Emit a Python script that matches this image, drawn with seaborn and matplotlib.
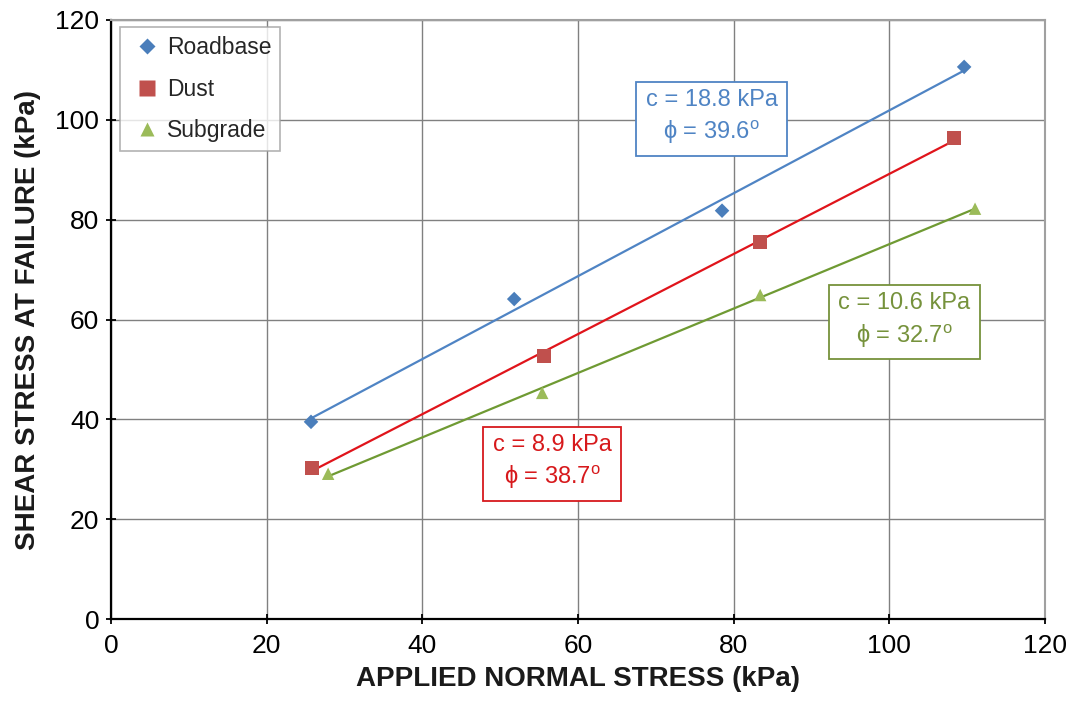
import numpy as np
import pandas as pd
import matplotlib
matplotlib.use("Agg")
import matplotlib.pyplot as plt
import seaborn as sns
from matplotlib.lines import Line2D

# ---- data ----
series = ["Roadbase", "Dust", "Subgrade"]
roadbase_x = [25.7, 51.8, 78.5, 109.6]
roadbase_y = [39.5, 64.1, 81.8, 110.6]
dust_x = [25.8, 55.6, 83.4, 108.3]
dust_y = [30.3, 52.7, 75.5, 96.4]
subgrade_x = [27.9, 55.4, 83.4, 111.0]
subgrade_y = [29.1, 45.3, 64.9, 82.2]
annot_text = ["c = 18.8 kPa\n\u03d5 = 39.6$^\\mathregular{o}$",
              "c = 8.9 kPa\n\u03d5 = 38.7$^\\mathregular{o}$",
              "c = 10.6 kPa\n\u03d5 = 32.7$^\\mathregular{o}$"]
annot_pos = [(77.2, 100.4), (56.7, 31.3), (101.9, 59.7)]
x_ticks = [0, 20, 40, 60, 80, 100, 120]
y_ticks = [0, 20, 40, 60, 80, 100, 120]

sns.set_theme(style="white")
plt.rcParams['font.family'] = ['Liberation Sans', 'DejaVu Sans']
plt.rcParams['mathtext.fontset'] = 'custom'
plt.rcParams['mathtext.rm'] = 'Liberation Sans'

marker_colors = ["#4a7ebb", "#c0504d", "#9bbb59"]
line_colors = ["#4f84c4", "#e0141b", "#6f9a33"]
text_colors = ["#4f84c4", "#d7191c", "#76923c"]
markers = ["D", "s", "^"]
msizes = [55, 95, 80]

df = pd.concat([
    pd.DataFrame({"x": roadbase_x, "y": roadbase_y, "s": "Roadbase"}),
    pd.DataFrame({"x": dust_x, "y": dust_y, "s": "Dust"}),
    pd.DataFrame({"x": subgrade_x, "y": subgrade_y, "s": "Subgrade"}),
])

fig = plt.figure(figsize=(10.73, 7.04), dpi=100)
ax = fig.add_axes([0.1034, 0.1207, 0.8706, 0.8509])

for i, name in enumerate(series):
    sub = df[df.s == name]
    sns.regplot(data=sub, x="x", y="y", ax=ax, scatter=False, ci=None,
                truncate=True, line_kws=dict(color=line_colors[i], lw=1.6, zorder=3))
    sns.scatterplot(data=sub, x="x", y="y", ax=ax, marker=markers[i],
                    s=msizes[i], color=marker_colors[i], edgecolor="none",
                    zorder=4, legend=False)

for i, (txt, (tx, ty)) in enumerate(zip(annot_text, annot_pos)):
    ax.text(tx, ty, txt, color=text_colors[i], fontsize=17, ha="center",
            va="center", linespacing=1.35, zorder=5,
            bbox=dict(boxstyle="square,pad=0.4", fc="white",
                      ec=text_colors[i], lw=1.3))

ax.set_xlim(0, 120)
ax.set_ylim(0, 120)
ax.set_xticks(x_ticks)
ax.set_yticks(y_ticks)
ax.grid(True, color="#808080", lw=1.0)
ax.set_axisbelow(True)
for side in ["top", "right"]:
    ax.spines[side].set_color("#a0a0a0")
    ax.spines[side].set_linewidth(1.5)
for side in ["left", "bottom"]:
    ax.spines[side].set_color("black")
    ax.spines[side].set_linewidth(1.6)
ax.tick_params(axis="both", labelsize=19, colors="black", direction="inout",
               length=7, width=1.3, pad=5, left=True, bottom=True)
ax.tick_params(axis="x", pad=7)
ax.set_xlabel("APPLIED NORMAL STRESS (kPa)", fontsize=20, fontweight="bold",
              labelpad=6, color="#1a1a1a")
ax.set_ylabel("SHEAR STRESS AT FAILURE (kPa)", fontsize=20, fontweight="bold",
              labelpad=10, color="#1a1a1a")

handles = [Line2D([], [], ls="none", marker=markers[i], color=marker_colors[i],
                  markersize=[8, 11, 10][i], markeredgecolor="none")
           for i in range(3)]
leg = ax.legend(handles, series, loc="upper left", bbox_to_anchor=(0.0095, 0.988),
                fontsize=16.5, frameon=True, fancybox=False, edgecolor="#a0a0a0",
                handlelength=1.6, handletextpad=0.05, labelspacing=0.8,
                borderpad=0.4, borderaxespad=0)
leg.get_frame().set_linewidth(1.2)

fig.savefig("out.png", dpi=100)
